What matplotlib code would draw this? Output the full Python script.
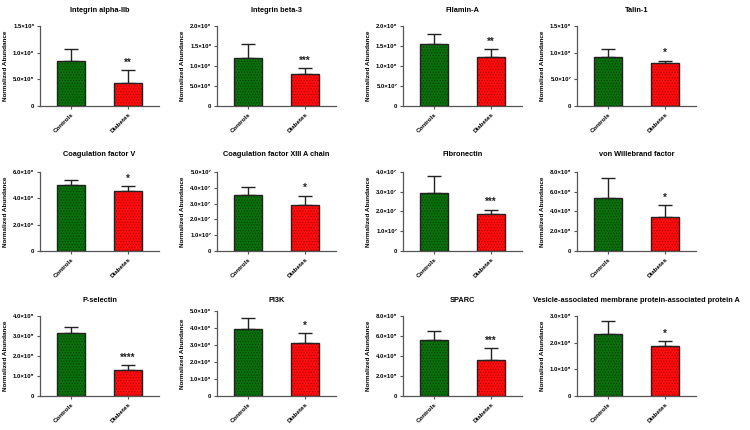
import numpy as np
import matplotlib as mpl
import matplotlib.pyplot as plt

mpl.rcParams['font.family'] = ['Liberation Sans', 'DejaVu Sans']
mpl.rcParams['font.weight'] = 'bold'
mpl.rcParams['hatch.linewidth'] = 0.5

groups = ['Controls', 'Diabetes']

titles = ['Integrin alpha-IIb', 'Integrin beta-3', 'Filamin-A', 'Talin-1',
          'Coagulation factor V', 'Coagulation factor XIII A chain', 'Fibronectin',
          'von Willebrand factor', 'P-selectin', 'PI3K', 'SPARC',
          'Vesicle-associated membrane protein-associated protein A']

ctrl_mean = [8.45e5, 1.20e6, 1.54e8, 9.2e7, 4.99e6, 3.56e7, 2.93e7, 5.41e5, 3.17e5, 3.97e6, 5.58e5, 2.34e5]
ctrl_top = [1.07e6, 1.555e6, 1.81e8, 1.065e8, 5.39e6, 4.07e7, 3.78e7, 7.43e5, 3.46e5, 4.60e6, 6.49e5, 2.83e5]
diab_mean = [4.25e5, 8.0e5, 1.22e8, 8.13e7, 4.54e6, 2.92e7, 1.85e7, 3.46e5, 1.28e5, 3.13e6, 3.63e5, 1.88e5]
diab_top = [6.7e5, 9.5e5, 1.42e8, 8.5e7, 4.94e6, 3.50e7, 2.10e7, 4.67e5, 1.55e5, 3.69e6, 4.81e5, 2.07e5]
stars = ['**', '***', '**', '*', '*', '*', '***', '*', '****', '*', '***', '*']

y_max = [1.5e6, 2.0e6, 2.0e8, 1.5e8, 6.0e6, 5.0e7, 4.0e7, 8.0e5, 4.0e5, 5.0e6, 8.0e5, 3.0e5]
y_step = [5e5, 5e5, 5e7, 5e7, 2e6, 1e7, 1e7, 2e5, 1e5, 1e6, 2e5, 1e5]

SUP = str.maketrans('0123456789', '⁰¹²³⁴⁵⁶⁷⁸⁹')


def fmt(v):
    if v == 0:
        return '0'
    e = int(np.floor(np.log10(v) + 1e-9))
    return '%.1f×10%s' % (v / 10**e, str(e).translate(SUP))


W, H = 750, 430
fig = plt.figure(figsize=(W / 100, H / 100), dpi=100)

lefts = [40, 217, 403, 577]
rows = [(26, 106), (172, 251), (316, 396)]
title_y = [10, 155, 301]

for i, t in enumerate(titles):
    r, c = divmod(i, 4)
    top, bot = rows[r]
    if i == 9:
        top = 311
    ax = fig.add_axes([lefts[c] / W, 1 - bot / H, 119 / W, (bot - top) / H])

    means = [ctrl_mean[i], diab_mean[i]]
    errs = [ctrl_top[i] - ctrl_mean[i], diab_top[i] - diab_mean[i]]
    x = np.arange(2)
    # fill with darker dotted texture, then a black outline on top
    ax.bar(x, means, width=0.5, color=['#0b700b', '#ff0d0d'],
           edgecolor=['#033d03', '#a80000'], linewidth=0, hatch='......', zorder=2)
    ax.bar(x, means, width=0.5, color='none', edgecolor='#222222', linewidth=1.0, zorder=3)
    ax.errorbar(x, means, yerr=[[0, 0], errs], fmt='none', ecolor='#222222',
                elinewidth=1.0, capsize=5, capthick=1.0, zorder=1)
    ax.text(1, diab_top[i] + y_max[i] * 0.03, stars[i], ha='center', va='bottom',
            fontsize=7, fontweight='bold', color='#222222')

    ax.set_xlim(-0.55, 1.55)
    ax.set_ylim(0, y_max[i])
    ticks = np.arange(0, y_max[i] + y_step[i] / 2, y_step[i])
    ax.set_yticks(ticks)
    ax.set_yticklabels([fmt(v) for v in ticks], fontsize=4.3)
    ax.set_xticks(x)
    ax.set_xticklabels(groups, rotation=45, ha='right', rotation_mode='anchor', fontsize=4.5)
    ax.tick_params(length=2, width=0.8, color='#555555', pad=2)

    for s in ['top', 'right']:
        ax.spines[s].set_visible(False)
    for s in ['left', 'bottom']:
        ax.spines[s].set_color('#555555')
        ax.spines[s].set_linewidth(0.9)

    ax.set_ylabel('Normalized Abundance', fontsize=4.6, fontweight='bold')
    ax.yaxis.set_label_coords(-0.27, 0.5)

    fig.text((lefts[c] + 59.5) / W, 1 - title_y[r] / H, t, ha='center', va='center',
             fontsize=5.3, fontweight='bold')

fig.savefig('out.png', dpi=100)
